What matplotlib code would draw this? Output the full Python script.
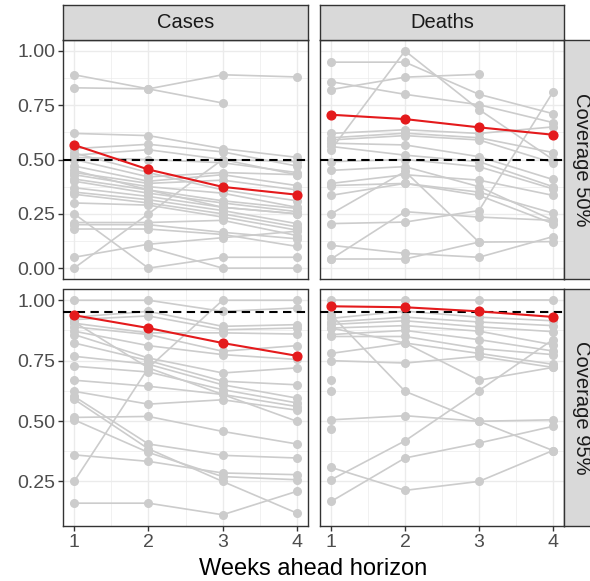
import numpy as np
import matplotlib.pyplot as plt

plt.rcParams['font.family'] = ['Liberation Sans', 'DejaVu Sans']

nan = np.nan
weeks = [1, 2, 3, 4]

# coverage of each single model, one row per model (weeks 1..4)
cases_50 = [
    [0.89, 0.825, 0.89, 0.88],
    [0.83, 0.825, 0.76, nan],
    [0.62, 0.61, 0.55, 0.51],
    [0.55, 0.57, 0.535, 0.47],
    [0.52, 0.545, 0.50, 0.49],
    [0.51, 0.50, 0.485, 0.44],
    [0.50, 0.42, 0.44, 0.43],
    [0.47, 0.40, 0.43, 0.38],
    [0.44, 0.39, 0.405, 0.36],
    [0.43, 0.375, 0.345, 0.28],
    [0.41, 0.36, 0.31, 0.275],
    [0.40, 0.345, 0.30, 0.26],
    [0.37, 0.33, 0.28, 0.25],
    [0.35, 0.315, 0.265, 0.205],
    [0.34, 0.30, 0.25, 0.19],
    [0.30, 0.29, 0.235, 0.175],
    [0.25, 0.0, 0.05, 0.05],
    [0.0, 0.25, 0.50, 0.43],
    [0.21, 0.21, 0.22, 0.15],
    [0.20, 0.20, 0.165, 0.135],
    [0.18, 0.18, 0.155, 0.10],
    [0.05, 0.11, 0.14, 0.17],
    [nan, 0.096, 0.0, 0.0],
    [0.45, 0.36, 0.28, 0.25],
    [0.53, 0.44, 0.36, 0.31],
]
deaths_50 = [
    [0.948, 0.948, 0.80, 0.711],
    [0.858, 0.80, 0.752, 0.67],
    [0.822, 0.879, 0.892, nan],
    [0.545, 1.0, 0.73, 0.50],
    [0.62, 0.637, 0.62, 0.65],
    [0.60, 0.621, 0.60, 0.532],
    [0.59, 0.61, 0.59, 0.485],
    [0.575, 0.567, 0.513, 0.408],
    [0.56, 0.52, 0.49, 0.375],
    [0.49, 0.50, 0.467, 0.365],
    [0.45, 0.467, 0.375, 0.22],
    [0.39, 0.43, 0.405, 0.335],
    [0.38, 0.39, 0.35, 0.253],
    [0.335, 0.39, 0.335, 0.205],
    [0.205, 0.212, 0.265, 0.81],
    [0.25, 0.445, 0.12, 0.122],
    [0.105, 0.068, 0.05, 0.145],
    [0.042, 0.26, 0.235, 0.22],
    [0.042, 0.042, 0.12, nan],
]
cases_95 = [
    [1.0, 1.0, 0.954, 0.968],
    [0.25, 0.72, 1.0, 1.0],
    [0.93, 0.954, 0.892, 0.899],
    [0.92, 0.935, 0.878, 0.885],
    [0.905, 0.865, 0.865, 0.86],
    [0.89, 0.858, 0.789, 0.812],
    [0.872, 0.812, 0.775, 0.755],
    [0.858, 0.761, 0.699, 0.72],
    [0.823, 0.75, 0.665, 0.65],
    [0.768, 0.735, 0.65, 0.595],
    [0.727, 0.703, 0.63, 0.575],
    [0.669, 0.644, 0.61, 0.56],
    [0.623, 0.57, 0.588, 0.545],
    [0.602, 0.405, 0.358, 0.347],
    [0.59, 0.385, 0.25, 0.119],
    [0.515, 0.519, 0.457, 0.405],
    [0.505, 0.37, 0.27, 0.257],
    [0.36, 0.333, 0.285, 0.278],
    [0.16, 0.16, 0.112, 0.209],
    [0.91, 0.72, 0.61, 0.499],
]
deaths_95 = [
    [1.0, 1.0, 1.0, 1.0],
    [0.94, 0.623, 0.499, 0.378],
    [0.925, 0.955, 0.93, 0.915],
    [0.91, 0.93, 0.91, 0.895],
    [0.90, 0.915, 0.89, 0.87],
    [0.885, 0.895, 0.872, 0.816],
    [0.858, 0.875, 0.837, 0.79],
    [0.85, 0.85, 0.80, 0.775],
    [0.78, 0.823, 0.78, 0.735],
    [0.75, 0.74, 0.768, 0.722],
    [0.671, nan, nan, nan],
    [0.626, nan, nan, nan],
    [0.505, 0.522, 0.499, 0.505],
    [0.468, nan, nan, nan],
    [0.308, 0.213, 0.25, 0.378],
    [0.257, 0.418, 0.626, 0.837],
    [0.167, 0.347, 0.409, 0.478],
    [0.885, 0.823, 0.669, 0.722],
]

# ensemble
ens_cases_50 = [0.567, 0.454, 0.374, 0.338]
ens_deaths_50 = [0.706, 0.686, 0.648, 0.614]
ens_cases_95 = [0.938, 0.885, 0.823, 0.77]
ens_deaths_95 = [0.975, 0.971, 0.954, 0.931]

col_labels = ['Cases', 'Deaths']
row_labels = ['Coverage 50%', 'Coverage 95%']
nominal = [0.50, 0.95]

W, H = 590, 581
fig = plt.figure(figsize=(W / 100, H / 100), dpi=100)

col_x = [(63, 245), (320, 244)]
row_y = [(40, 239), (289.5, 236.5)]
ylims = [(-0.05, 1.05), (0.0655, 1.0445)]
yticks = [[0, 0.25, 0.5, 0.75, 1.0], [0.25, 0.5, 0.75, 1.0]]

panels = [[cases_50, deaths_50], [cases_95, deaths_95]]
ens = [[ens_cases_50, ens_deaths_50], [ens_cases_95, ens_deaths_95]]

grey_c = '#CCCCCC'
red_c = '#E41A1C'
frame_c = '#333333'
strip_c = '#D9D9D9'


def strip(rect, label, rot):
    sax = fig.add_axes(rect)
    sax.set_facecolor(strip_c)
    sax.set_xticks([])
    sax.set_yticks([])
    for s in sax.spines.values():
        s.set_color(frame_c)
        s.set_linewidth(1.0)
    sax.text(0.5, 0.5, label, ha='center', va='center', rotation=rot,
             fontsize=14.5, color='#1A1A1A', transform=sax.transAxes)


for r in range(2):
    for c in range(2):
        x0, w = col_x[c]
        y0, h = row_y[r]
        ax = fig.add_axes([x0 / W, 1 - (y0 + h) / H, w / W, h / H])
        for model in panels[r][c]:
            ax.plot(weeks, model, color=grey_c, lw=1.2, marker='o', ms=5.5,
                    mec=grey_c, mfc=grey_c, zorder=2)
        ax.axhline(nominal[r], color='black', lw=1.5, ls=(0, (4, 2.6)), zorder=3)
        ax.plot(weeks, ens[r][c], color=red_c, lw=1.5, marker='o', ms=6.3,
                mec=red_c, mfc=red_c, zorder=4)
        ax.set_xlim(0.85, 4.15)
        ax.set_ylim(*ylims[r])
        ax.set_xticks(weeks)
        ax.set_xticks([1.5, 2.5, 3.5], minor=True)
        yt = yticks[r]
        ax.set_yticks(yt)
        ax.set_yticks([(a + b) / 2 for a, b in zip(yt[:-1], yt[1:])], minor=True)
        ax.grid(which='major', color='#EBEBEB', lw=1.0, zorder=0)
        ax.grid(which='minor', color='#EBEBEB', lw=0.5, zorder=0)
        ax.set_axisbelow(True)
        for s in ax.spines.values():
            s.set_color(frame_c)
            s.set_linewidth(1.0)
        ax.tick_params(which='major', length=3.5, width=1.0, color=frame_c,
                       labelsize=14, labelcolor='#4D4D4D', pad=2)
        ax.tick_params(which='minor', length=0)
        if c == 0:
            ax.set_yticklabels(['%.2f' % v for v in yt])
        else:
            ax.tick_params(axis='y', which='major', length=0, labelleft=False)
        if r == 0:
            ax.tick_params(axis='x', which='major', length=0, labelbottom=False)
            strip([x0 / W, 1 - 40 / H, w / W, 35 / H], col_labels[c], 0)
        else:
            ax.set_xticklabels([str(v) for v in weeks])
    y0, h = row_y[r]
    strip([564 / W, 1 - (y0 + h) / H, 35 / W, h / H], row_labels[r], -90)

fig.text(313 / W, 1 - 569 / H, 'Weeks ahead horizon', ha='center', va='center',
         fontsize=17, color='black')

fig.savefig('out.png', dpi=100)
